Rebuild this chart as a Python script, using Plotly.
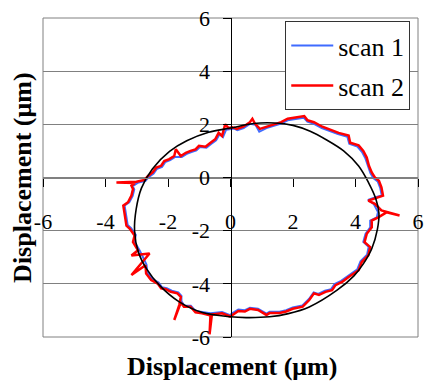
import plotly.graph_objects as go

# ---- data ----
tick_vals = [-6, -4, -2, 0, 2, 4, 6]
tick_text = ["-6", "-4", "-2", "0", "2", "4", "6"]

fit_x = [0.0, 0.74, 1.4, 2.0, 2.55, 3.05, 3.62, 4.1, 4.42, 4.65, 4.75, 4.70, 4.52, 4.25, 3.95, 3.41, 2.52, 1.85,
         1.25, 0.5, 0.0, -0.90, -1.64, -2.27, -2.69, -2.95, -3.07, -3.02, -2.85, -2.50, -1.95, -1.40, -0.70, 0.0]
fit_y = [1.86, 2.03, 2.05, 1.96, 1.74, 1.43, 1.00, 0.43, -0.20, -0.80, -1.35, -1.95, -2.68, -3.25, -3.70, -4.24,
         -4.87, -5.12, -5.24, -5.27, -5.24, -5.08, -4.68, -4.06, -3.43, -2.80, -2.00, -1.20, -0.40, 0.32, 0.98,
         1.38, 1.70, 1.86]

scan2_x = [0.09, 0.20, 0.41, 0.62, 0.70, 0.78, 0.94, 1.15, 1.36, 1.62, 1.83, 2.04, 2.36, 2.46, 2.67, 2.94, 3.20, 3.46,
           3.78, 3.83, 4.10, 4.25, 4.36, 4.43, 4.52, 4.62, 4.75, 4.83, 4.88, 4.68, 4.41, 4.62, 4.83, 5.41, 4.99, 4.73,
           4.52, 4.52, 4.36, 4.29, 4.47, 4.41, 4.20, 4.10, 3.94, 3.78, 3.57, 3.36, 3.25, 3.04, 2.83, 2.67, 2.52, 2.31,
           1.99, 1.78, 1.57, 1.25, 1.15, 0.88, 0.62, 0.46, 0.25, 0.04, -0.01, -0.27, -0.49, -0.64, -0.67, -0.60, -0.91,
           -1.12, -1.28, -1.49, -1.59, -1.80, -1.64, -1.59, -1.70, -1.91, -2.07, -2.22, -2.33, -2.54, -2.70, -2.72,
           -3.17, -2.59, -3.17, -2.96, -3.12, -3.07, -3.22, -3.33, -3.38, -3.43, -3.28, -3.17, -3.12, -3.17, -3.06,
           -3.65, -3.01, -2.75, -2.64, -2.49, -2.38, -2.22, -2.12, -1.96, -1.80, -1.75, -1.59, -1.43, -1.28, -1.12,
           -1.01, -0.80, -0.64, -0.49, -0.38, -0.27, -0.17, -0.06, 0.09]
scan2_y = [1.89, 1.83, 1.91, 2.08, 2.21, 2.03, 1.83, 1.91, 2.00, 2.08, 2.21, 2.24, 2.31, 2.16, 2.08, 1.91, 1.78, 1.68,
           1.58, 1.31, 1.21, 1.00, 0.75, 0.44, 0.19, 0.00, -0.12, -0.37, -0.68, -0.75, -0.87, -0.99, -1.24, -1.43, -1.31,
           -1.50, -1.62, -1.87, -2.12, -2.43, -2.62, -2.93, -3.18, -3.49, -3.61, -3.74, -3.93, -4.05, -4.24, -4.30,
           -4.42, -4.36, -4.61, -4.86, -4.94, -5.04, -5.10, -5.10, -5.17, -4.98, -4.94, -5.04, -5.02, -5.17, -5.23,
           -5.11, -5.14, -5.16, -5.90, -5.20, -5.11, -5.07, -4.86, -4.86, -4.70, -5.36, -4.80, -4.49, -4.36, -4.30,
           -4.20, -4.17, -3.99, -3.86, -3.61, -3.30, -3.67, -2.86, -2.93, -2.74, -2.43, -2.18, -1.93, -1.81, -1.43,
           -1.06, -0.93, -0.68, -0.43, -0.31, -0.21, -0.19, -0.16, -0.09, 0.06, 0.19, 0.37, 0.44, 0.62, 0.69, 0.81,
           1.06, 0.81, 0.93, 1.00, 1.06, 1.19, 1.16, 1.31, 1.44, 1.68, 1.56, 2.00, 1.86, 1.89]

scan1_x = [0.12, 0.22, 0.42, 0.62, 0.80, 0.92, 1.15, 1.38, 1.62, 1.83, 2.04, 2.34, 2.46, 2.67, 2.92, 3.18, 3.44, 3.74,
           3.80, 4.06, 4.21, 4.32, 4.40, 4.48, 4.58, 4.71, 4.79, 4.84, 4.64, 4.40, 4.58, 4.72, 4.68, 4.47, 4.47, 4.32,
           4.25, 4.42, 4.37, 4.16, 4.06, 3.91, 3.75, 3.54, 3.33, 3.22, 3.02, 2.81, 2.66, 2.51, 2.30, 1.99, 1.78, 1.57,
           1.25, 1.15, 0.88, 0.62, 0.46, 0.25, 0.04, -0.01, -0.27, -0.49, -0.64, -0.91, -1.12, -1.27, -1.48, -1.57,
           -1.57, -1.67, -1.88, -2.04, -2.19, -2.30, -2.50, -2.66, -2.69, -2.80, -2.92, -3.08, -3.03, -3.18, -3.29,
           -3.34, -3.39, -3.24, -3.13, -3.08, -3.13, -3.02, -2.97, -2.72, -2.61, -2.46, -2.35, -2.19, -2.09, -1.93,
           -1.77, -1.56, -1.40, -1.25, -1.09, -0.98, -0.77, -0.61, -0.46, -0.35, -0.24, -0.14, -0.03, 0.12]
scan1_y = [1.84, 1.78, 1.86, 2.02, 1.98, 1.72, 1.86, 1.95, 2.03, 2.15, 2.19, 2.25, 2.10, 2.02, 1.86, 1.73, 1.63, 1.53,
           1.27, 1.16, 0.96, 0.71, 0.41, 0.16, -0.03, -0.15, -0.39, -0.68, -0.74, -0.84, -0.99, -1.30, -1.50, -1.62,
           -1.87, -2.12, -2.42, -2.61, -2.90, -3.15, -3.45, -3.57, -3.70, -3.89, -4.01, -4.20, -4.26, -4.38, -4.32,
           -4.57, -4.81, -4.89, -4.99, -5.05, -5.05, -5.12, -4.94, -4.90, -4.99, -4.97, -5.12, -5.18, -5.06, -5.09,
           -5.11, -5.06, -5.02, -4.82, -4.82, -4.66, -4.45, -4.32, -4.26, -4.16, -4.13, -3.95, -3.82, -3.57, -3.27,
           -3.00, -2.72, -2.41, -2.16, -1.91, -1.79, -1.42, -1.05, -0.93, -0.69, -0.45, -0.33, -0.24, -0.20, -0.13,
           0.02, 0.15, 0.33, 0.40, 0.58, 0.65, 0.77, 0.77, 0.89, 0.96, 1.02, 1.15, 1.12, 1.27, 1.40, 1.63, 1.52,
           1.80, 1.82, 1.84]

SERIF = "Liberation Serif"

fig = go.Figure()
fig.add_trace(go.Scatter(x=scan1_x, y=scan1_y, mode="lines", name="scan 1",
                         line=dict(color="#3f6bff", width=2), legendgroup="a"))
fig.add_trace(go.Scatter(x=scan2_x, y=scan2_y, mode="lines", name="scan 2",
                         line=dict(color="#ff0000", width=2.5), legendgroup="b"))
fig.add_trace(go.Scatter(x=fit_x, y=fit_y, mode="lines", showlegend=False,
                         line=dict(color="black", width=1.6, shape="spline", smoothing=1.0)))

fig.update_layout(
    width=430, height=385,
    margin=dict(l=43, r=6, t=16, b=48),
    paper_bgcolor="white", plot_bgcolor="white",
    font=dict(family=SERIF, color="black"),
    xaxis=dict(range=[-6, 6], anchor="free", position=0.5, tickvals=tick_vals, ticktext=tick_text,
               showline=True, linecolor="#808080", linewidth=1, ticks="outside", ticklen=8,
               tickcolor="black", tickwidth=1, showgrid=False, zeroline=False,
               tickfont=dict(family=SERIF, size=22, color="black"), ticklabelstandoff=16),
    yaxis=dict(range=[-6, 6], anchor="free", position=0.5, tickvals=tick_vals, ticktext=tick_text,
               showline=True, linecolor="black", linewidth=1, ticks="outside", ticklen=8,
               tickcolor="black", tickwidth=1, showgrid=True, gridcolor="#808080", gridwidth=1,
               zeroline=False, tickfont=dict(family=SERIF, size=22, color="black"), ticklabelstandoff=8),
    legend=dict(x=0.646, y=0.99, xanchor="left", yanchor="top", bgcolor="white",
                bordercolor="#333333", borderwidth=1, font=dict(family=SERIF, size=26, color="black"),
                traceorder="grouped", tracegroupgap=3, itemwidth=42),
    shapes=[dict(type="rect", xref="paper", yref="paper", x0=0, x1=1, y0=0, y1=1,
                 line=dict(color="#808080", width=1), layer="below")],
    annotations=[
        dict(text="<b>Displacement (μm)</b>", xref="paper", yref="paper", x=0.504, y=-0.093,
             xanchor="center", yanchor="middle", showarrow=False,
             font=dict(family=SERIF, size=26, color="black")),
        dict(text="<b>Displacement (μm)</b>", xref="paper", yref="paper", x=-0.055, y=0.5,
             xanchor="center", yanchor="middle", showarrow=False, textangle=-90,
             font=dict(family=SERIF, size=26, color="black")),
    ],
)

fig.write_html("out.html")
